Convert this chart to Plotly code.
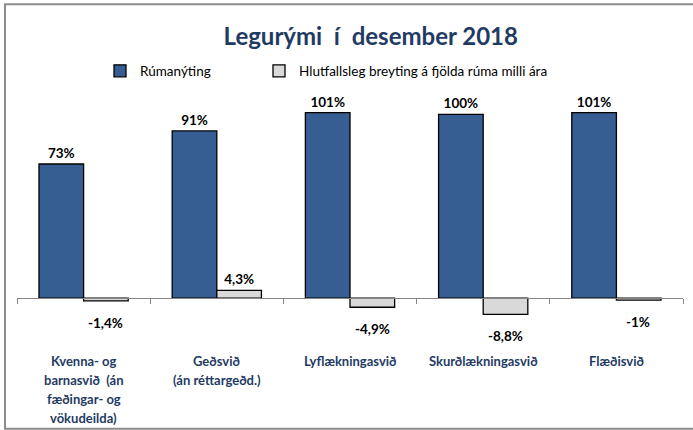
import plotly.graph_objects as go

categories = [
    "Kvenna- og<br>barnasvið  (án<br>fæðingar- og<br>vökudeilda)",
    "Geðsvið<br>(án réttargeðd.)",
    "Lyflækningasvið",
    "Skurðlækningasvið",
    "Flæðisvið",
]
occupancy = [73, 91, 101, 100, 101]
occupancy_labels = ["73%", "91%", "101%", "100%", "101%"]
bed_change = [-1.4, 4.3, -4.9, -8.8, -1.0]
bed_change_labels = ["-1,4%", "4,3%", "-4,9%", "-8,8%", "-1%"]

BLUE = "#375E92"
GRAY = "#D9D9D9"
TITLE_BLUE = "#1F3B64"
FONT = "Lato"

y_min, y_max = -20, 110
W, H = 693, 430
ml, mr = 17, 10
px_per_unit = 1.832
zero_px = 298
mt = zero_px - y_max * px_per_unit
mb = H - (zero_px - y_min * px_per_unit)
plot_w = W - ml - mr
plot_h = H - mt - mb

fig = go.Figure()
fig.add_trace(go.Bar(
    x=categories, y=occupancy, name="Rúmanýting",
    marker=dict(color=BLUE, line=dict(color="#000000", width=1.3)),
    text=occupancy_labels, textposition="outside",
    textfont=dict(family=FONT, size=13.5, color="#000000", weight="bold"),
    cliponaxis=False, legend="legend",
))
pos_text = [t if v >= 0 else "" for v, t in zip(bed_change, bed_change_labels)]
fig.add_trace(go.Bar(
    x=categories, y=bed_change, name="Hlutfallsleg breyting á fjölda rúma milli ára",
    marker=dict(color=GRAY, line=dict(color="#000000", width=1.3)),
    text=pos_text, textposition="outside",
    textfont=dict(family=FONT, size=13.5, color="#000000", weight="bold"),
    cliponaxis=False, legend="legend2",
))

for c, v, t in zip(categories, bed_change, bed_change_labels):
    if v < 0:
        fig.add_annotation(
            x=c, y=v, xref="x", yref="y", text=t, showarrow=False,
            xshift=22, yshift=-22, yanchor="middle",
            font=dict(family=FONT, size=13.5, color="#000000", weight="bold"),
        )

# Category labels, one annotation per line for Excel-like line spacing
for c in categories:
    for i, line in enumerate(c.split("<br>")):
        fig.add_annotation(
            x=c, y=0, xref="x", yref="y", text=line, showarrow=False,
            yshift=-(63 + 19 * i), yanchor="middle", xanchor="center",
            font=dict(family=FONT, size=13, color=TITLE_BLUE, weight="bold"),
        )

zero_frac = (0 - y_min) / (y_max - y_min)

legend_common = dict(
    orientation="h", xanchor="left",
    y=1 - 71 / H, yanchor="middle", yref="container",
    font=dict(family=FONT, size=13.5, color="#000000"),
    itemwidth=30, bgcolor="rgba(0,0,0,0)",
)

fig.update_layout(
    width=W, height=H,
    margin=dict(l=ml, r=mr, t=mt, b=mb, pad=0),
    paper_bgcolor="white", plot_bgcolor="rgba(0,0,0,0)",
    barmode="group", bargap=0.33, bargroupgap=0,
    title=dict(
        text="<b>Legurými  í  desember 2018</b>",
        x=0.535, xanchor="center", y=1 - 37 / H, yanchor="middle",
        font=dict(family=FONT, size=24, color=TITLE_BLUE),
    ),
    legend=dict(x=(100 - ml) / plot_w, **legend_common),
    legend2=dict(x=(259 - ml) / plot_w, **legend_common),
    showlegend=True,
    xaxis=dict(
        anchor="free", position=zero_frac,
        showline=True, linecolor="#868686", linewidth=1,
        ticks="outside", tickson="boundaries", ticklen=5, tickcolor="#868686",
        showticklabels=False,
        showgrid=False, zeroline=False,
    ),
    yaxis=dict(
        range=[y_min, y_max], visible=False, showgrid=False, zeroline=False,
    ),
    shapes=[dict(
        type="rect", xref="paper", yref="paper",
        x0=(5 - ml) / plot_w, x1=(700 - ml) / plot_w,
        y0=(H - mb - 428) / plot_h, y1=(H - mb - 5) / plot_h,
        line=dict(color="#8C8C8C", width=2), fillcolor="rgba(0,0,0,0)",
        layer="above",
    )],
)

fig.write_html(
    "out.html",
    config={"displayModeBar": False},
    post_script="document.body.style.margin='0';document.body.style.padding='0';",
)
